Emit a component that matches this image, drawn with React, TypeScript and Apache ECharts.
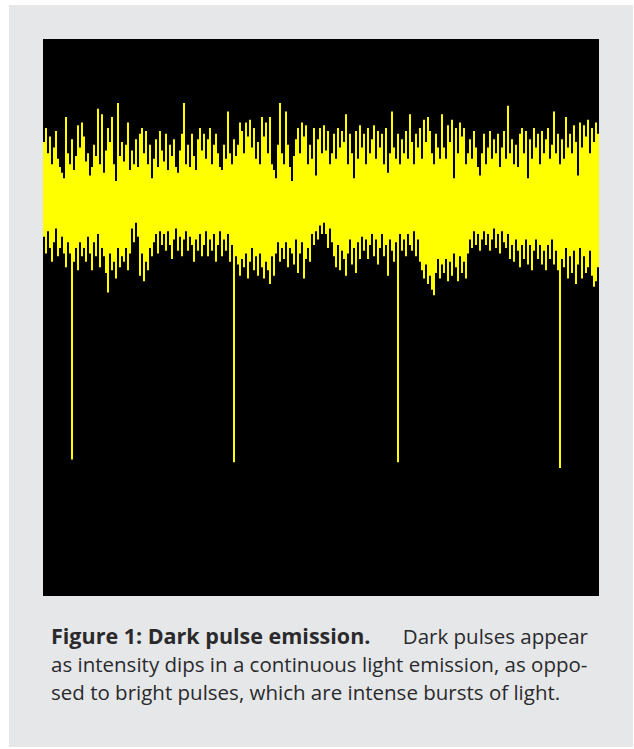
import React, { useEffect, useRef } from "react";
import * as echarts from "echarts";

// Upper edge of the emitted signal per sample (arbitrary intensity units, 0–200)
const upperEdge: number[] = [
  163, 168, 159, 165, 155, 161, 167, 157, 154, 152, 150, 172, 159, 155, 164, 153, 158, 169, 161, 170,
  165, 156, 159, 151, 154, 162, 158, 175, 155, 173, 152, 160, 168, 163, 172, 155, 149, 177, 158, 163,
  156, 162, 170, 153, 160, 155, 164, 154, 166, 168, 159, 167, 155, 162, 150, 157, 164, 154, 167, 160,
  156, 166, 153, 162, 158, 164, 154, 152, 160, 166, 177, 155, 162, 154, 166, 158, 153, 164, 168, 160,
  166, 157, 164, 168, 155, 162, 166, 159, 154, 153, 162, 157, 174, 159, 155, 164, 158, 162, 170, 167,
  159, 170, 165, 171, 161, 168, 157, 163, 155, 172, 165, 170, 159, 172, 155, 153, 150, 162, 177, 159,
  155, 174, 162, 154, 149, 158, 164, 168, 159, 170, 165, 169, 155, 162, 157, 168, 151, 164, 168, 159,
  169, 160, 167, 155, 159, 166, 157, 168, 161, 167, 163, 173, 155, 166, 159, 150, 167, 157, 169, 161,
  166, 155, 168, 159, 164, 169, 157, 167, 161, 166, 155, 168, 152, 159, 174, 161, 157, 166, 155, 164,
  159, 167, 157, 173, 163, 155, 166, 161, 168, 157, 171, 163, 172, 167, 159, 155, 166, 161, 157, 173,
  161, 157, 169, 163, 171, 150, 168, 159, 170, 165, 168, 155, 159, 164, 157, 167, 161, 154, 151, 159,
  166, 155, 161, 167, 157, 164, 159, 166, 154, 161, 167, 157, 176, 159, 164, 155, 162, 154, 166, 168,
  159, 167, 150, 164, 157, 168, 161, 166, 155, 167, 159, 164, 168, 157, 162, 174, 159, 166, 155, 164,
  157, 172, 161, 166, 159, 169, 163, 151, 170, 161, 169, 165, 171, 159, 168, 163, 170, 166,
];

// Lower edge of the signal per sample; the four deep dips are the dark pulses
const lowerEdge: number[] = [
  129, 123, 131, 125, 120, 127, 132, 122, 125, 129, 123, 118, 127, 123, 49, 120, 125, 117, 127, 122,
  125, 120, 129, 123, 117, 127, 122, 130, 118, 125, 122, 116, 109, 123, 117, 120, 114, 125, 118, 122,
  120, 125, 117, 123, 132, 127, 134, 129, 115, 123, 113, 120, 117, 125, 122, 127, 130, 123, 131, 126,
  130, 124, 131, 126, 121, 128, 132, 124, 129, 122, 128, 131, 124, 129, 126, 120, 128, 124, 130, 122,
  126, 131, 122, 128, 124, 130, 120, 126, 131, 122, 128, 124, 130, 120, 126, 48, 122, 119, 115, 121,
  118, 123, 114, 120, 125, 117, 122, 115, 123, 118, 114, 120, 117, 112, 122, 115, 123, 127, 120, 125,
  121, 127, 118, 125, 123, 119, 128, 116, 123, 127, 114, 121, 125, 120, 130, 126, 131, 128, 133, 130,
  134, 130, 125, 132, 127, 122, 118, 126, 117, 124, 121, 115, 123, 128, 119, 125, 116, 127, 121, 129,
  124, 128, 121, 126, 130, 122, 128, 119, 125, 130, 122, 126, 115, 128, 124, 120, 127, 48, 130, 124,
  128, 122, 130, 126, 124, 131, 122, 128, 120, 117, 114, 119, 112, 115, 110, 108, 116, 121, 114, 119,
  116, 121, 113, 120, 115, 123, 118, 113, 122, 116, 120, 114, 123, 128, 125, 131, 126, 130, 124, 128,
  131, 126, 130, 124, 128, 132, 125, 130, 123, 131, 127, 125, 130, 121, 126, 120, 128, 124, 118, 126,
  121, 128, 119, 126, 117, 124, 128, 121, 126, 119, 124, 117, 126, 121, 128, 119, 124, 117, 46, 121,
  118, 125, 114, 122, 116, 124, 112, 119, 125, 114, 122, 116, 118, 124, 115, 111, 113, 118,
];

const samples: number[] = upperEdge.map((_, i) => i);

const captionBold = "Figure 1: Dark pulse emission.";
const captionLine1 = "Dark pulses appear";
const captionLine2 = "as intensity dips in a continuous light emission, as oppo-";
const captionLine3 = "sed to bright pulses, which are intense bursts of light.";

export default function App() {
  const ref = useRef<HTMLDivElement>(null);

  useEffect(() => {
    if (!ref.current) return;
    const chart = echarts.init(ref.current, undefined, { renderer: "svg" });
    const n = Math.min(upperEdge.length, lowerEdge.length);
    const floor = lowerEdge.slice(0, n);
    const band = upperEdge.slice(0, n).map((u, i) => u - lowerEdge[i]);
    const font = "'Open Sans', Lato, sans-serif";
    const fontSize = 20.5;
    const textColor = "#2a2a2c";

    chart.setOption({
      animation: false,
      backgroundColor: "#e6e7e9",
      grid: {
        left: 34,
        top: 34,
        width: 556,
        height: 557,
        show: true,
        backgroundColor: "#000000",
        borderWidth: 0,
      },
      xAxis: {
        type: "category",
        data: samples.slice(0, n),
        show: false,
        boundaryGap: true,
      },
      yAxis: {
        type: "value",
        min: 0,
        max: 200,
        show: false,
        splitLine: { show: false },
      },
      series: [
        {
          name: "floor",
          type: "bar",
          stack: "signal",
          data: floor,
          barCategoryGap: "0%",
          itemStyle: { color: "rgba(0,0,0,0)" },
          silent: true,
        },
        {
          name: "signal",
          type: "bar",
          stack: "signal",
          data: band,
          barCategoryGap: "0%",
          itemStyle: { color: "#ffff00" },
          silent: true,
        },
      ],
      graphic: [
        {
          type: "text",
          left: 42,
          top: 619,
          style: {
            text: captionBold,
            font: `bold 21.5px ${font}`,
            fill: textColor,
          },
        },
        {
          type: "text",
          right: 45,
          top: 620,
          style: {
            text: captionLine1,
            font: `${fontSize}px ${font}`,
            fill: textColor,
          },
        },
        {
          type: "text",
          left: 42,
          top: 648,
          style: {
            text: captionLine2,
            font: `${fontSize}px ${font}`,
            fill: textColor,
          },
        },
        {
          type: "text",
          left: 42,
          top: 676,
          style: {
            text: captionLine3,
            font: `${fontSize}px ${font}`,
            fill: textColor,
          },
        },
      ],
    });
    return () => chart.dispose();
  }, []);

  return (
    <div
      ref={ref}
      style={{ position: "absolute", left: 9, top: 5, width: 624, height: 742 }}
    />
  );
}
